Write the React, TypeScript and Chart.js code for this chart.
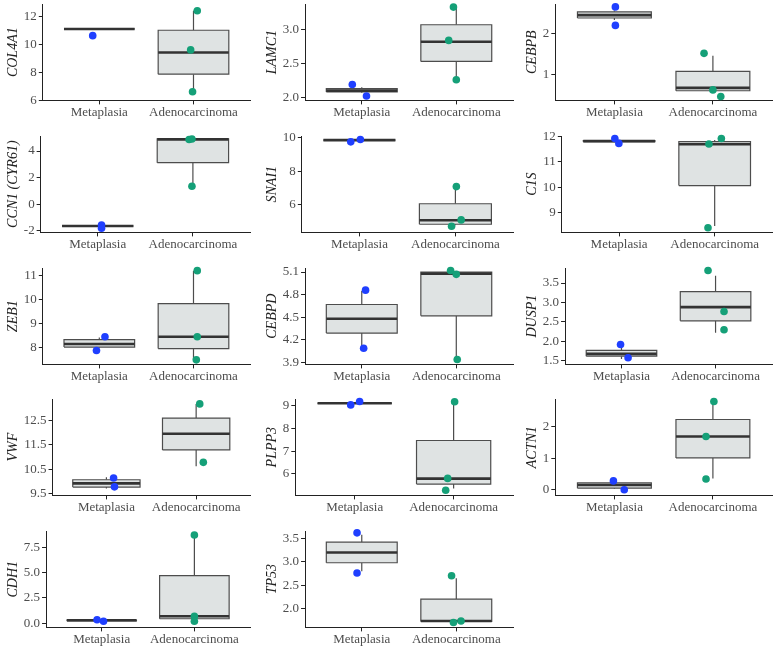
import React, { useEffect, useRef } from 'react';
import { Chart, registerables } from 'chart.js';

Chart.register(...registerables);

// ---------------- data ----------------
const GENES = ['COL4A1', 'LAMC1', 'CEBPB', 'CCN1 (CYR61)', 'SNAI1', 'C1S', 'ZEB1', 'CEBPD', 'DUSP1', 'VWF', 'PLPP3', 'ACTN1', 'CDH1', 'TP53'];
const GROUPS = ['Metaplasia', 'Adenocarcinoma'];

// y tick labels per panel
const Y_TICKS = [
  ['6', '8', '10', '12'],
  ['2.0', '2.5', '3.0'],
  ['1', '2'],
  ['-2', '0', '2', '4'],
  ['6', '8', '10'],
  ['9', '10', '11', '12'],
  ['8', '9', '10', '11'],
  ['3.9', '4.2', '4.5', '4.8', '5.1'],
  ['1.5', '2.0', '2.5', '3.0', '3.5'],
  ['9.5', '10.5', '11.5', '12.5'],
  ['6', '7', '8', '9'],
  ['0', '1', '2'],
  ['0.0', '2.5', '5.0', '7.5'],
  ['2.0', '2.5', '3.0', '3.5'],
];

// y axis limits [min, max]
const Y_LIMITS = [
  [6.0, 12.91],
  [1.956, 3.376],
  [0.365, 2.71],
  [-2.11, 5.13],
  [4.32, 10.11],
  [8.24, 12.01],
  [7.3, 11.31],
  [3.875, 5.154],
  [1.41, 3.886],
  [9.44, 13.38],
  [5.05, 9.3],
  [-0.18, 2.88],
  [-0.4, 9.1],
  [1.594, 3.66],
];

// box stats [lower whisker, q1, median, q3, upper whisker]
const META_BOX = [
  [11.12, 11.12, 11.12, 11.12, 11.12],
  [2.07, 2.08, 2.1, 2.13, 2.15],
  [2.32, 2.37, 2.44, 2.52, 2.55],
  [-1.63, -1.63, -1.63, -1.63, -1.63],
  [9.86, 9.86, 9.86, 9.86, 9.86],
  [11.78, 11.79, 11.81, 11.83, 11.84],
  [8.0, 8.02, 8.15, 8.33, 8.42],
  [4.1, 4.29, 4.48, 4.67, 4.85],
  [1.55, 1.62, 1.68, 1.77, 1.85],
  [9.72, 9.78, 9.93, 10.08, 10.18],
  [9.11, 9.11, 9.11, 9.11, 9.11],
  [0.02, 0.05, 0.15, 0.22, 0.25],
  [0.2, 0.25, 0.3, 0.33, 0.35],
  [2.8, 2.98, 3.2, 3.42, 3.58],
];
const ADENO_BOX = [
  [6.62, 7.88, 9.43, 11.03, 12.43],
  [2.26, 2.53, 2.82, 3.07, 3.33],
  [0.58, 0.6, 0.67, 1.07, 1.45],
  [1.36, 3.13, 4.88, 4.92, 4.95],
  [4.75, 4.81, 5.05, 6.04, 7.07],
  [8.49, 10.07, 11.69, 11.79, 11.85],
  [7.5, 7.96, 8.45, 9.83, 11.2],
  [3.94, 4.52, 5.08, 5.1, 5.11],
  [2.22, 2.53, 2.88, 3.28, 3.69],
  [10.63, 11.3, 11.96, 12.6, 13.18],
  [5.35, 5.55, 5.79, 7.47, 9.18],
  [0.36, 1.01, 1.69, 2.23, 2.8],
  [0.2, 0.45, 0.7, 4.7, 8.6],
  [1.7, 1.72, 1.73, 2.2, 2.65],
];

// jittered sample points [x position, value]
const META_POINTS = [
  [[0.93, 10.64]],
  [[0.9, 2.19], [1.05, 2.02]],
  [[1.01, 2.64], [1.01, 2.19]],
  [[1.04, -1.55], [1.04, -1.8]],
  [[0.91, 9.76], [1.01, 9.9]],
  [[0.955, 11.91], [0.997, 11.72]],
  [[1.06, 8.45], [0.97, 7.88]],
  [[1.04, 4.86], [1.02, 4.09]],
  [[0.99, 1.92], [1.07, 1.58]],
  [[1.08, 10.15], [1.09, 9.79]],
  [[0.96, 9.04], [1.05, 9.19]],
  [[0.99, 0.28], [1.1, 0.0]],
  [[0.95, 0.35], [1.02, 0.2]],
  [[0.95, 3.62], [0.95, 2.76]],
];
const ADENO_POINTS = [
  [[2.04, 12.43], [1.97, 9.62], [1.99, 6.62]],
  [[1.97, 3.33], [1.92, 2.84], [2.0, 2.26]],
  [[1.91, 1.51], [2.0, 0.62], [2.08, 0.46]],
  [[1.96, 4.87], [1.99, 4.9], [1.99, 1.36]],
  [[2.01, 7.07], [2.06, 5.07], [1.96, 4.69]],
  [[2.07, 11.91], [1.94, 11.7], [1.93, 8.42]],
  [[2.04, 11.2], [2.04, 8.45], [2.03, 7.49]],
  [[1.94, 5.12], [2.0, 5.07], [2.01, 3.94]],
  [[1.92, 3.82], [2.09, 2.77], [2.09, 2.3]],
  [[2.04, 13.18], [2.08, 10.79]],
  [[2.01, 9.18], [1.94, 5.8], [1.92, 5.28]],
  [[2.01, 2.8], [1.93, 1.69], [1.93, 0.34]],
  [[2.0, 8.7], [2.0, 0.7], [2.0, 0.2]],
  [[1.95, 2.7], [2.05, 1.73], [1.97, 1.7]],
];

// ---------------- style / layout ----------------
const POINT_COLORS = ['#1f3fff', '#15a078'];
const BOX_FILL = '#dfe3e3';
const BOX_LINE = '#4d4d4d';
const MEDIAN_LINE = '#333333';
const AXIS_COLOR = '#222222';
const TEXT_COLOR = '#4d4d4d';
const FONT = "'Liberation Serif', 'Times New Roman', serif";
const COL_LEFT = [0, 259, 519];
const COL_PAD_RIGHT = [9, 5, 6];
const ROW_H = 131.8;
const CELL_W = 259;
const CELL_H = 132;
const HALF_BOX = 0.375;

function Panel({ idx }: { idx: number }) {
  const ref = useRef<HTMLCanvasElement | null>(null);
  const col = idx % 3;
  const row = Math.floor(idx / 3);

  useEffect(() => {
    if (!ref.current) return;
    const tickLabels = Y_TICKS[idx];
    const tickVals = tickLabels.map((t) => parseFloat(t));
    const boxes = [META_BOX[idx], ADENO_BOX[idx]];
    const pts = [META_POINTS[idx], ADENO_POINTS[idx]];
    const datasets: any[] = [];
    boxes.forEach((b, g) => {
      const c = g + 1;
      const [lo, q1, med, q3, hi] = b;
      datasets.push({
        data: pts[g].map(([x, y]) => ({ x, y })),
        showLine: false,
        pointRadius: 3.8,
        pointBackgroundColor: POINT_COLORS[g],
        pointBorderWidth: 0,
        pointBorderColor: POINT_COLORS[g],
        order: 0,
        clip: false,
      });
      datasets.push({
        data: [{ x: c - HALF_BOX, y: med }, { x: c + HALF_BOX, y: med }],
        borderColor: MEDIAN_LINE,
        borderWidth: 2.6,
        borderCapStyle: 'butt',
        pointRadius: 0,
        order: 1,
      });
      datasets.push({
        data: [
          { x: c - HALF_BOX, y: q1 },
          { x: c + HALF_BOX, y: q1 },
          { x: c + HALF_BOX, y: q3 },
          { x: c - HALF_BOX, y: q3 },
          { x: c - HALF_BOX, y: q1 },
        ],
        borderColor: BOX_LINE,
        borderWidth: 1.2,
        borderJoinStyle: 'miter',
        backgroundColor: BOX_FILL,
        fill: 'shape',
        pointRadius: 0,
        order: 2,
      });
      datasets.push({
        data: [
          { x: c, y: lo },
          { x: c, y: q1 },
          { x: c, y: null },
          { x: c, y: q3 },
          { x: c, y: hi },
        ],
        borderColor: BOX_LINE,
        borderWidth: 1.2,
        pointRadius: 0,
        spanGaps: false,
        order: 3,
      });
    });

    const axisCommon = {
      grid: { display: true, drawOnChartArea: false, drawTicks: true, tickLength: 4, color: AXIS_COLOR, lineWidth: 1 },
      border: { display: true, color: AXIS_COLOR, width: 1 },
    };

    const chart = new Chart(ref.current, {
      type: 'line',
      data: { datasets },
      options: {
        animation: false,
        responsive: false,
        maintainAspectRatio: false,
        events: [],
        layout: { padding: { top: 3, right: COL_PAD_RIGHT[col], bottom: 12, left: 0 } },
        plugins: { legend: { display: false }, tooltip: { enabled: false } },
        scales: {
          x: {
            type: 'linear',
            min: 0.4,
            max: 2.6,
            ...axisCommon,
            afterBuildTicks: (s: any) => {
              s.ticks = [{ value: 1 }, { value: 2 }];
            },
            afterFit: (s: any) => {
              s.paddingLeft = 0;
              s.paddingRight = 0;
            },
            ticks: {
              autoSkip: false,
              maxRotation: 0,
              padding: 0,
              color: TEXT_COLOR,
              font: { family: FONT, size: 13 },
              callback: (v: any) => GROUPS[Math.round(Number(v)) - 1],
            },
          },
          y: {
            type: 'linear',
            min: Y_LIMITS[idx][0],
            max: Y_LIMITS[idx][1],
            ...axisCommon,
            afterBuildTicks: (s: any) => {
              s.ticks = tickVals.map((v) => ({ value: v }));
            },
            afterFit: (s: any) => {
              s.paddingTop = 0;
              s.paddingBottom = 0;
            },
            ticks: {
              autoSkip: false,
              padding: 2,
              color: TEXT_COLOR,
              font: { family: FONT, size: 13 },
              callback: (v: any) => {
                const i = tickVals.findIndex((t) => Math.abs(t - Number(v)) < 1e-9);
                return i >= 0 ? tickLabels[i] : '';
              },
            },
            title: {
              display: true,
              text: GENES[idx],
              color: '#222222',
              font: { family: FONT, size: 14, style: 'italic' },
              padding: { top: 5, bottom: 0 },
            },
          },
        },
      } as any,
    });
    return () => chart.destroy();
  }, [idx, col]);

  return (
    <div
      style={{
        position: 'absolute',
        left: COL_LEFT[col],
        top: row * ROW_H,
        width: CELL_W,
        height: CELL_H,
      }}
    >
      <canvas ref={ref} width={CELL_W} height={CELL_H} style={{ width: CELL_W, height: CELL_H, display: 'block' }} />
    </div>
  );
}

export default function App() {
  return (
    <div style={{ position: 'absolute', left: 0, top: 0, width: 780, height: 648, background: '#ffffff', overflow: 'hidden' }}>
      {GENES.map((g, i) => (
        <Panel key={g} idx={i} />
      ))}
    </div>
  );
}
